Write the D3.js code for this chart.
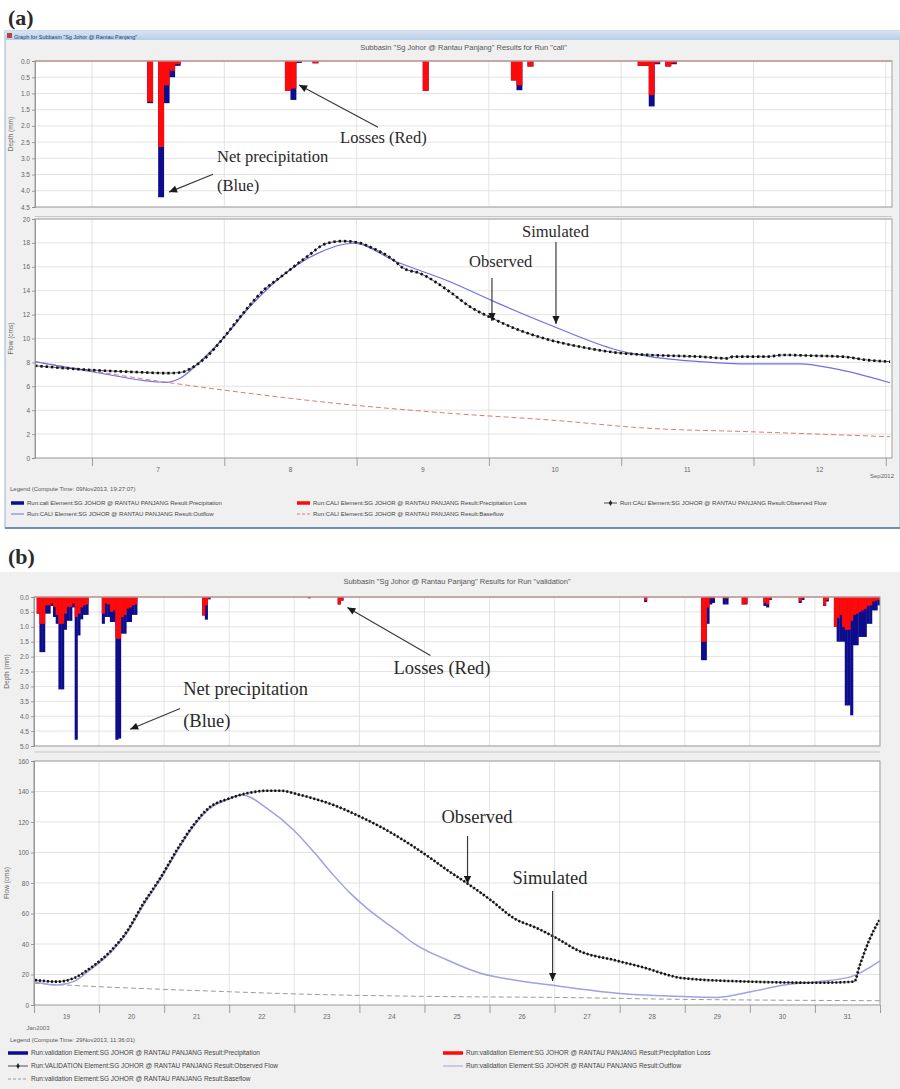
<!DOCTYPE html>
<html>
<head>
<meta charset="utf-8">
<script src="https://cdn.jsdelivr.net/npm/d3@7"></script>
<style>
  body { margin: 0; background: #fff; }
  svg text { font-family: "Liberation Sans", Arial, sans-serif; }
  svg text.ann { font-family: "Liberation Serif", "Times New Roman", serif; fill: #2a2a2a; }
</style>
</head>
<body>
<svg id="fig" width="900" height="1089"></svg>
<script>
// ===== (a) calibration run "cali", September 2012 =====
var depthTicksA = [0, 0.5, 1, 1.5, 2, 2.5, 3, 3.5, 4, 4.5];
var flowTicksA  = [0, 2, 4, 6, 8, 10, 12, 14, 16, 18, 20];

// hyetograph, hour counted from 6 Sep 2012 00:00 (mm)
var precipHourA  = [34, 36, 37, 38, 39, 59, 60, 61, 64, 84, 100, 101, 103, 123, 124, 125, 126, 128, 129];
var precipTotalA = [1.3, 4.2, 1.3, 0.5, 0.15, 0.92, 1.2, 0.06, 0.07, 0.92, 0.6, 0.9, 0.17, 0.15, 0.15, 1.4, 0.1, 0.17, 0.1];
var precipLossA  = [1.26, 2.65, 0.75, 0.3, 0.1, 0.92, 0.85, 0.04, 0.07, 0.92, 0.6, 0.75, 0.17, 0.15, 0.15, 1.05, 0.07, 0.17, 0.07];

// flows (cms), x = day of September 2012
var obsDayA  = [6.569, 7.0, 7.31, 7.567, 7.665, 7.763, 7.869, 7.99, 8.119, 8.293, 8.444, 8.625, 8.776, 8.897, 9.003, 9.124, 9.275, 9.351, 9.479, 9.706, 9.857, 10.023, 10.212, 10.462, 10.711, 10.968, 11.218, 11.596, 11.8, 11.845, 12.102, 12.223, 12.48, 12.677, 12.858, 13.032];
var obsFlowA = [7.72, 7.36, 7.2, 7.1, 7.15, 7.6, 8.5, 10.0, 11.8, 14.0, 15.3, 16.85, 17.97, 18.15, 18.05, 17.55, 16.6, 15.9, 15.45, 13.9, 12.66, 11.7, 10.77, 9.87, 9.26, 8.81, 8.62, 8.48, 8.34, 8.48, 8.48, 8.62, 8.55, 8.48, 8.2, 8.06];
var simDayA  = [6.569, 7.0, 7.567, 7.665, 7.816, 7.99, 8.217, 8.444, 8.701, 8.973, 9.305, 9.706, 10.023, 10.462, 10.968, 11.218, 11.596, 11.974, 12.351, 12.601, 13.032];
var simFlowA = [8.06, 7.22, 6.33, 6.67, 8.06, 10.0, 12.94, 15.3, 17.1, 17.97, 16.4, 14.75, 13.17, 11.13, 9.04, 8.48, 8.06, 7.87, 7.87, 7.5, 6.3];
var baseDayA  = [6.569, 7.567, 7.99, 8.973, 9.706, 10.462, 11.218, 11.974, 13.032];
var baseFlowA = [8.06, 6.33, 5.69, 4.43, 3.74, 3.18, 2.48, 2.2, 1.78];

var legendA = [
  "Run:cali Element:SG JOHOR @ RANTAU PANJANG Result:Precipitation",
  "Run:CALI Element:SG JOHOR @ RANTAU PANJANG Result:Precipitation Loss",
  "Run:CALI Element:SG JOHOR @ RANTAU PANJANG Result:Observed Flow",
  "Run:CALI Element:SG JOHOR @ RANTAU PANJANG Result:Outflow",
  "Run:CALI Element:SG JOHOR @ RANTAU PANJANG Result:Baseflow"
];

// ===== (b) validation run, January 2003 =====
var depthTicksB = [0, 0.5, 1, 1.5, 2, 2.5, 3, 3.5, 4, 4.5, 5];
var flowTicksB  = [0, 20, 40, 60, 80, 100, 120, 140, 160];

// hyetograph, hour counted from 19 Jan 2003 00:00 (mm)
var precipHourB  = [1, 2, 3, 4, 5, 6, 7, 8, 9, 10, 11, 12, 13, 14, 15, 16, 17, 18, 19,
                    25, 26, 27, 28, 29, 30, 31, 32, 33, 34, 35, 36, 37,
                    62, 63, 64, 101, 112, 113, 225, 246, 247, 248, 249, 250, 254, 255, 261, 262,
                    269, 270, 271, 282, 283, 291, 292,
                    295, 296, 297, 298, 299, 300, 301, 302, 303, 304, 305, 306, 307, 308, 309, 310, 311];
var precipTotalB = [0.56, 1.85, 1.85, 0.56, 0.56, 0.3, 0.67, 0.9, 3.1, 3.1, 1.1, 0.8, 0.8, 0.35, 4.79, 1.29, 0.75, 0.6, 0.6,
                    0.9, 0.67, 0.67, 0.84, 0.84, 4.79, 4.75, 1.23, 1.23, 0.84, 0.84, 0.6, 0.6,
                    0.62, 0.76, 0.08, 0.04, 0.25, 0.12, 0.17, 2.12, 2.12, 0.9, 0.25, 0.2, 0.25, 0.25, 0.25, 0.25,
                    0.3, 0.35, 0.1, 0.2, 0.1, 0.3, 0.15,
                    1.0, 1.5, 1.5, 1.5, 3.64, 3.64, 3.97, 1.62, 1.62, 1.34, 1.34, 1.34, 0.9, 0.9, 0.45, 0.45, 0.28];
var precipLossB  = [0.56, 0.9, 0.9, 0.28, 0.28, 0.22, 0.33, 0.6, 0.9, 0.9, 0.56, 0.33, 0.33, 0.22, 0.67, 0.56, 0.35, 0.28, 0.25,
                    0.56, 0.22, 0.25, 0.5, 0.45, 1.4, 1.4, 0.67, 0.6, 0.39, 0.35, 0.28, 0.25,
                    0.62, 0.28, 0.05, 0.04, 0.25, 0.12, 0.12, 1.5, 1.5, 0.35, 0.05, 0.05, 0.05, 0.05, 0.25, 0.22,
                    0.2, 0.25, 0.08, 0.15, 0.05, 0.28, 0.1,
                    1.0, 0.7, 0.6, 1.0, 1.1, 1.1, 0.8, 0.6, 0.56, 0.5, 0.45, 0.4, 0.3, 0.28, 0.15, 0.12, 0.1];

// flows (cms), x = day of January 2003 (32 = 1 Feb)
var obsDayB  = [19.015, 19.349, 19.605, 19.862, 20.169, 20.426, 20.682, 20.938, 21.195, 21.451, 21.708, 21.965, 22.272, 22.58, 22.785, 23.092, 23.605, 24.118, 24.323, 24.631, 24.835, 25.143, 25.349, 25.657, 26.015, 26.374, 26.734, 26.99, 27.4, 27.912, 28.323, 28.989, 30.015, 31.042, 31.605, 31.682, 31.835, 31.989];
var obsFlowB = [16.4, 15.3, 17.5, 24.1, 35, 48.1, 66.7, 83.1, 101.6, 118, 130, 134.9, 138.8, 140.5, 140.5, 137.7, 131.1, 121.3, 116.9, 109.3, 103.8, 94.8, 88.5, 79.8, 68.9, 56.9, 50.3, 44.8, 35, 29.5, 25.1, 17.5, 15.3, 14.6, 15.3, 25.1, 42.6, 55.7];
var simDayB  = [19.015, 19.349, 19.605, 19.862, 20.169, 20.426, 20.682, 20.938, 21.195, 21.451, 21.708, 21.965, 22.2, 22.58, 22.989, 23.297, 23.605, 23.862, 24.118, 24.374, 24.631, 24.835, 25.349, 25.862, 26.374, 26.938, 27.965, 28.989, 29.503, 30.015, 30.528, 31.042, 31.554, 32.0];
var simFlowB = [15.3, 13.1, 15.3, 23, 34, 47, 65.5, 82, 100.5, 117, 129, 134.5, 137.7, 129, 114.8, 100.5, 85, 73.2, 63.4, 55, 47, 40.4, 29.5, 20.8, 16.4, 13.1, 7.7, 5.5, 5.0, 8.7, 13.1, 15.3, 18.6, 29];
var baseDayB  = [19.015, 20.0, 21.538, 23.077, 25.354, 26.938, 28.985, 32.0];
var baseFlowB = [14.2, 12, 9.4, 7.2, 5.5, 5, 3.7, 2.8];

var legendB = [
  "Run:validation Element:SG JOHOR @ RANTAU PANJANG Result:Precipitation",
  "Run:validation Element:SG JOHOR @ RANTAU PANJANG Result:Precipitation Loss",
  "Run:VALIDATION Element:SG JOHOR @ RANTAU PANJANG Result:Observed Flow",
  "Run:validation Element:SG JOHOR @ RANTAU PANJANG Result:Outflow",
  "Run:validation Element:SG JOHOR @ RANTAU PANJANG Result:Baseflow"
];

var svg = d3.select("#fig");
var defs = svg.append("defs");
defs.append("marker").attr("id", "arr")
  .attr("viewBox", "0 0 10 10").attr("refX", 10).attr("refY", 5)
  .attr("markerWidth", 9).attr("markerHeight", 8).attr("markerUnits", "userSpaceOnUse")
  .attr("orient", "auto")
  .append("path").attr("d", "M0,0.5L10,5L0,9.5z").attr("fill", "#1a1a1a");

function dateOf(year, month) {
  return function(day) { return new Date(Date.UTC(year, month, 1) + (day - 1) * 864e5); };
}
function zip(a, b) { return a.map(function(v, i) { return [v, b[i]]; }); }

function styleAxis(ax, size) {
  ax.selectAll("path, line").attr("stroke", "#8a8a8a").attr("stroke-width", 0.8);
  ax.selectAll("text").attr("font-size", size).attr("fill", "#666").attr("font-family", "Liberation Sans, Arial, sans-serif");
}

// window chrome
function drawWindowA() {
  var g = svg.append("g");
  g.append("rect").attr("x", 5).attr("y", 31).attr("width", 895).attr("height", 497).attr("fill", "#f0f0f0")
    .attr("stroke", "#9db3cf").attr("stroke-width", 1);
  var grad = defs.append("linearGradient").attr("id", "bar").attr("x1", 0).attr("y1", 0).attr("x2", 0).attr("y2", 1);
  grad.append("stop").attr("offset", "0").attr("stop-color", "#d6e4f3");
  grad.append("stop").attr("offset", "1").attr("stop-color", "#b8cfe8");
  g.append("rect").attr("x", 5).attr("y", 31).attr("width", 895).attr("height", 9).attr("fill", "url(#bar)");
  g.append("rect").attr("x", 7).attr("y", 33).attr("width", 5).attr("height", 5).attr("fill", "#c04040");
  g.append("text").attr("x", 14).attr("y", 38.5).attr("font-size", 5.5).attr("fill", "#1c3a78")
    .text('Graph for Subbasin "Sg Johor @ Rantau Panjang"');
  g.append("line").attr("x1", 5).attr("x2", 900).attr("y1", 528).attr("y2", 528).attr("stroke", "#6f8fb5").attr("stroke-width", 2);
  svg.append("text").attr("x", 8).attr("y", 25).attr("font-size", 22).attr("font-weight", "bold")
    .attr("class", "ann").attr("fill", "#111").text("(a)");
}
function drawWindowB() {
  svg.append("rect").attr("x", 0).attr("y", 572).attr("width", 900).attr("height", 517).attr("fill", "#f0f0f0");
  svg.append("text").attr("x", 8).attr("y", 564).attr("font-size", 22).attr("font-weight", "bold")
    .attr("class", "ann").attr("fill", "#111").text("(b)");
}

function drawPanel(p) {
  var toDate = dateOf(p.year, p.month);
  var x = d3.scaleUtc().domain([toDate(p.dayStart), toDate(p.dayEnd)]).range([p.left, p.right]);
  var yD = d3.scaleLinear().domain([0, d3.max(p.depthTicks)]).range([p.hTop, p.hBot]);
  var yF = d3.scaleLinear().domain([0, d3.max(p.flowTicks)]).range([p.fBot, p.fTop]);
  var t0 = x.domain()[0], t1 = x.domain()[1];
  var dayLines = d3.utcDay.range(d3.utcDay.ceil(t0), new Date(+t1 + 1));
  var noons = d3.utcDay.range(d3.utcDay.floor(t0), t1)
    .map(function(d) { return d3.utcHour.offset(d, 12); })
    .filter(function(d) { return d > t0 && d < t1; });
  var g = svg.append("g");

  g.append("text").attr("x", (p.left + p.right) / 2).attr("y", p.titleY).attr("text-anchor", "middle")
    .attr("font-size", 7.5).attr("fill", "#555").text(p.title);

  g.append("line").attr("x1", p.left).attr("x2", p.right).attr("y1", p.sepY).attr("y2", p.sepY)
    .attr("stroke", "#c8c8c8").attr("stroke-width", 1);

  [[p.hTop, p.hBot], [p.fTop, p.fBot]].forEach(function(r) {
    g.append("rect").attr("x", p.left).attr("y", r[0]).attr("width", p.right - p.left)
      .attr("height", r[1] - r[0]).attr("fill", "#fff");
  });

  // grid
  var grid = g.append("g").attr("stroke", "#dcdcdc").attr("stroke-width", 0.8);
  grid.selectAll(".gd").data(p.depthTicks).join("line").attr("class", "gd")
    .attr("x1", p.left).attr("x2", p.right).attr("y1", yD).attr("y2", yD);
  grid.selectAll(".gf").data(p.flowTicks).join("line").attr("class", "gf")
    .attr("x1", p.left).attr("x2", p.right).attr("y1", yF).attr("y2", yF);
  grid.selectAll(".vh").data(dayLines).join("line").attr("class", "vh")
    .attr("x1", x).attr("x2", x).attr("y1", p.hTop).attr("y2", p.hBot);
  grid.selectAll(".vf").data(dayLines).join("line").attr("class", "vf")
    .attr("x1", x).attr("x2", x).attr("y1", p.fTop).attr("y2", p.fBot);

  // hyetograph bars: full precipitation in blue, losses in red over it
  var cid = "clip" + p.key;
  defs.append("clipPath").attr("id", cid + "h").append("rect")
    .attr("x", p.left).attr("y", p.hTop).attr("width", p.right - p.left).attr("height", p.hBot - p.hTop);
  defs.append("clipPath").attr("id", cid + "f").append("rect")
    .attr("x", p.left).attr("y", p.fTop).attr("width", p.right - p.left).attr("height", p.fBot - p.fTop);

  var origin = toDate(p.precipOrigin);
  var bars = p.precipHour.map(function(h, i) {
    return { t: d3.utcHour.offset(origin, h), total: p.precipTotal[i], loss: p.precipLoss[i] };
  });
  // a hair wider than one hour so neighbouring bars close up like in HMS
  var bw = function(d) { return x(d3.utcHour.offset(d.t, 1)) - x(d.t) + 0.4; };
  var hb = g.append("g").attr("clip-path", "url(#" + cid + "h)");
  hb.selectAll(".pb").data(bars).join("rect").attr("class", "pb")
    .attr("x", function(d) { return x(d.t); }).attr("y", p.hTop)
    .attr("width", bw).attr("height", function(d) { return yD(d.total) - p.hTop; })
    .attr("fill", "#0c0c8c");
  hb.selectAll(".lb").data(bars).join("rect").attr("class", "lb")
    .attr("x", function(d) { return x(d.t); }).attr("y", p.hTop)
    .attr("width", bw).attr("height", function(d) { return yD(d.loss) - p.hTop; })
    .attr("fill", "#ff0a0a");
  g.append("line").attr("x1", p.left).attr("x2", p.right).attr("y1", p.hTop).attr("y2", p.hTop)
    .attr("stroke", "#f07070").attr("stroke-width", 1);

  // hydrographs
  var line = d3.line().x(function(d) { return x(toDate(d[0])); }).y(function(d) { return yF(d[1]); })
    .curve(d3.curveMonotoneX);
  var fl = g.append("g").attr("clip-path", "url(#" + cid + "f)").attr("fill", "none");
  fl.append("path").attr("d", line(zip(p.baseDay, p.baseFlow)))
    .attr("stroke", p.baseColor).attr("stroke-width", 1).attr("stroke-dasharray", "5,3");
  fl.append("path").attr("d", line(zip(p.simDay, p.simFlow)))
    .attr("stroke", p.simColor).attr("stroke-width", p.simWidth);
  fl.append("path").attr("d", line(zip(p.obsDay, p.obsFlow)))
    .attr("stroke", "#333").attr("stroke-width", 0.8);
  fl.append("path").attr("d", line(zip(p.obsDay, p.obsFlow)))
    .attr("stroke", "#111").attr("stroke-width", 2.6).attr("stroke-dasharray", p.obsDash);

  // frames
  [[p.hTop, p.hBot], [p.fTop, p.fBot]].forEach(function(r) {
    g.append("rect").attr("x", p.left).attr("y", r[0]).attr("width", p.right - p.left)
      .attr("height", r[1] - r[0]).attr("fill", "none").attr("stroke", "#a0a0a0").attr("stroke-width", 1);
  });

  // axes
  var axD = g.append("g").attr("transform", "translate(" + p.left + ",0)")
    .call(d3.axisLeft(yD).tickValues(p.depthTicks).tickFormat(d3.format(".1f")).tickSize(3).tickPadding(2));
  styleAxis(axD, 6.5);
  var axF = g.append("g").attr("transform", "translate(" + p.left + ",0)")
    .call(d3.axisLeft(yF).tickValues(p.flowTicks).tickFormat(d3.format("d")).tickSize(3).tickPadding(2));
  styleAxis(axF, 6.5);
  var axX = g.append("g").attr("transform", "translate(0," + p.fBot + ")")
    .call(d3.axisBottom(x).tickValues(dayLines).tickSize(8).tickFormat(""));
  styleAxis(axX, 6.5);
  axX.select(".domain").remove();
  g.selectAll(".dl").data(noons).join("text").attr("class", "dl")
    .attr("x", x).attr("y", p.fBot + 14).attr("text-anchor", "middle")
    .attr("font-size", 6.5).attr("fill", "#666")
    .text(function(d) { return d.getUTCDate(); });
  g.append("text").attr("x", p.monthX).attr("y", p.fBot + p.monthDy).attr("text-anchor", "middle")
    .attr("font-size", 6).attr("fill", "#666").text(p.monthLabel);

  g.append("text").attr("transform", "translate(" + p.axisTitleX + "," + (p.hTop + p.hBot) / 2 + ") rotate(-90)")
    .attr("text-anchor", "middle").attr("font-size", 6.5).attr("fill", "#666").text("Depth (mm)");
  g.append("text").attr("transform", "translate(" + p.axisTitleX + "," + (p.fTop + p.fBot) / 2 + ") rotate(-90)")
    .attr("text-anchor", "middle").attr("font-size", 6.5).attr("fill", "#666").text("Flow (cms)");

  // annotations, placed in data units
  var px = function(a) { return x(toDate(a.day)); };
  var py = function(a) { return a.on === "h" ? yD(a.v) : yF(a.v); };
  g.selectAll(".nt").data(p.notes).join("text").attr("class", "ann")
    .attr("x", px).attr("y", py).attr("font-size", p.noteSize).text(function(d) { return d.text; });
  g.selectAll(".ar").data(p.arrows).join("line").attr("class", "ar")
    .attr("x1", function(d) { return px({ day: d.day1 }); })
    .attr("y1", function(d) { return py({ on: d.on, v: d.v1 }); })
    .attr("x2", function(d) { return px({ day: d.day2 }); })
    .attr("y2", function(d) { return py({ on: d.on, v: d.v2 }); })
    .attr("stroke", "#3a3a3a").attr("stroke-width", 1.2).attr("marker-end", "url(#arr)");

  // legend
  var lg = g.append("g");
  lg.append("text").attr("x", p.legendTitleX).attr("y", p.legendTitleY).attr("font-size", 6)
    .attr("fill", "#555").text(p.legendTitle);
  var kinds = ["prec", "loss", "obs", "out", "base"];
  p.legendTexts.forEach(function(txt, i) {
    var pos = p.legendPos[i], k = kinds[i];
    var x0 = pos[0], y0 = pos[1], x1 = pos[0] + p.legendKey;
    var ln = lg.append("line").attr("x1", x0).attr("x2", x1).attr("y1", y0).attr("y2", y0);
    if (k === "prec") ln.attr("stroke", "#0c0c8c").attr("stroke-width", 3.5);
    if (k === "loss") ln.attr("stroke", "#ff0a0a").attr("stroke-width", 3.5);
    if (k === "obs") {
      ln.attr("stroke", "#222").attr("stroke-width", 0.8);
      lg.append("path").attr("d", d3.symbol(d3.symbolDiamond, 10)())
        .attr("transform", "translate(" + (x0 + x1) / 2 + "," + y0 + ")").attr("fill", "#222");
    }
    if (k === "out") ln.attr("stroke", p.simColor).attr("stroke-width", 1);
    if (k === "base") ln.attr("stroke", p.baseColor).attr("stroke-width", 1).attr("stroke-dasharray", "3,2");
    lg.append("text").attr("x", x1 + 3).attr("y", y0 + 2).attr("font-size", p.legendFont)
      .attr("fill", "#444").text(txt);
  });
}

drawWindowA();
drawWindowB();

drawPanel({
  key: "a", year: 2012, month: 8, dayStart: 6.569, dayEnd: 13.047,
  left: 35, right: 892, hTop: 61, hBot: 207, fTop: 219, fBot: 458, sepY: 216.5,
  titleY: 50, title: 'Subbasin "Sg Johor @ Rantau Panjang" Results for Run "cali"',
  depthTicks: depthTicksA, flowTicks: flowTicksA,
  precipOrigin: 6, precipHour: precipHourA, precipTotal: precipTotalA, precipLoss: precipLossA,
  obsDay: obsDayA, obsFlow: obsFlowA, simDay: simDayA, simFlow: simFlowA, baseDay: baseDayA, baseFlow: baseFlowA,
  simColor: "#6f6fe6", simWidth: 1.2, baseColor: "#e07a7a", obsDash: "2.4,2.9",
  monthLabel: "Sep2012", monthX: 882, monthDy: 20, axisTitleX: 13,
  noteSize: 16.5,
  notes: [
    { text: "Losses (Red)", day: 8.875, v: 2.53, on: "h" },
    { text: "Net precipitation", day: 7.945, v: 3.12, on: "h" },
    { text: "(Blue)", day: 7.945, v: 4.01, on: "h" },
    { text: "Observed", day: 9.85, v: 15.98, on: "f" },
    { text: "Simulated", day: 10.25, v: 18.49, on: "f" }
  ],
  arrows: [
    { day1: 9.162, v1: 2.04, day2: 8.565, v2: 0.74, on: "h" },
    { day1: 7.915, v1: 3.49, day2: 7.582, v2: 4.04, on: "h" },
    { day1: 10.023, v1: 15.06, day2: 10.023, v2: 11.46, on: "f" },
    { day1: 10.507, v1: 18.08, day2: 10.507, v2: 11.21, on: "f" }
  ],
  legendTitle: "Legend (Compute Time: 09Nov2013, 19:27:07)", legendTitleX: 10, legendTitleY: 491,
  legendTexts: legendA, legendFont: 6, legendKey: 13,
  legendPos: [[11, 503], [297, 503], [604, 503], [11, 514], [297, 514]]
});

drawPanel({
  key: "b", year: 2003, month: 0, dayStart: 19, dayEnd: 32,
  left: 34, right: 880, hTop: 597, hBot: 746, fTop: 761, fBot: 1005, sepY: 752,
  titleY: 584, title: 'Subbasin "Sg Johor @ Rantau Panjang" Results for Run "validation"',
  depthTicks: depthTicksB, flowTicks: flowTicksB,
  precipOrigin: 19, precipHour: precipHourB, precipTotal: precipTotalB, precipLoss: precipLossB,
  obsDay: obsDayB, obsFlow: obsFlowB, simDay: simDayB, simFlow: simFlowB, baseDay: baseDayB, baseFlow: baseFlowB,
  simColor: "#a0a0e2", simWidth: 1.5, baseColor: "#9a9a9a", obsDash: "2,2",
  monthLabel: "Jan2003", monthX: 38, monthDy: 25, axisTitleX: 9,
  noteSize: 18.5,
  notes: [
    { text: "Losses (Red)", day: 24.523, v: 2.59, on: "h" },
    { text: "Net precipitation", day: 21.292, v: 3.3, on: "h" },
    { text: "(Blue)", day: 21.292, v: 4.37, on: "h" },
    { text: "Observed", day: 25.262, v: 119.3, on: "f" },
    { text: "Simulated", day: 26.354, v: 79.3, on: "f" }
  ],
  arrows: [
    { day1: 25.092, v1: 1.96, day2: 23.815, v2: 0.35, on: "h" },
    { day1: 21.246, v1: 3.74, day2: 20.477, v2: 4.44, on: "h" },
    { day1: 25.662, v1: 110.8, day2: 25.662, v2: 79.3, on: "f" },
    { day1: 26.969, v1: 74.8, day2: 26.969, v2: 15.7, on: "f" }
  ],
  legendTitle: "Legend (Compute Time: 29Nov2013, 11:36:01)", legendTitleX: 10, legendTitleY: 1042,
  legendTexts: legendB, legendFont: 6.5, legendKey: 20,
  legendPos: [[8, 1053], [443, 1053], [8, 1066], [443, 1066], [8, 1079]]
});
</script>
</body>
</html>
